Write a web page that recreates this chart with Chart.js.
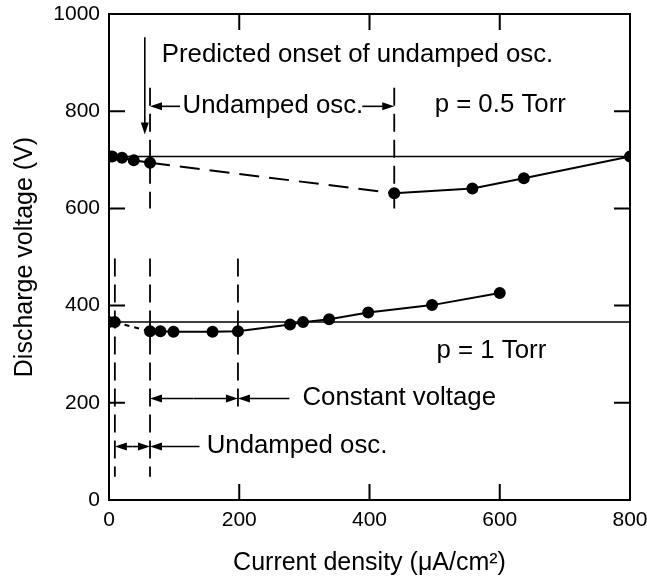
<!DOCTYPE html>
<html>
<head>
<meta charset="utf-8">
<script src="https://cdn.jsdelivr.net/npm/chart.js@4.4.1/dist/chart.umd.min.js"></script>
<style>
  html, body { margin: 0; padding: 0; background: #fff; }
</style>
</head>
<body>
<canvas id="chart" width="647" height="581"></canvas>
<script>
// current density (uA/cm2) and discharge voltage (V)
const torr05X = [0, 5, 20, 38, 63, 438, 558, 637, 800];
const torr05Y = [707, 707, 704, 699, 694, 631, 641, 662, 707];
const torr1X = [0, 9, 63, 79, 99, 159, 198, 278, 298, 338, 398, 496, 600];
const torr1Y = [366, 366, 347, 347, 346, 346, 347, 361, 366, 372, 386, 401, 426];
const refLevels = [707, 366];
const xTickValues = [0, 200, 400, 600, 800];
const yTickValues = [0, 200, 400, 600, 800, 1000];

const FONT = "'Liberation Sans', Arial, Helvetica, sans-serif";
Chart.defaults.font.family = FONT;
Chart.defaults.color = '#000';

function toPoints(xs, ys) {
  return xs.map(function(v, i) { return { x: v, y: ys[i] }; });
}

function arrow(ctx, x0, y0, x1, y1) {
  const ang = Math.atan2(y1 - y0, x1 - x0);
  const len = 12, half = 4;
  ctx.beginPath();
  ctx.moveTo(x0, y0);
  ctx.lineTo(x1 - Math.cos(ang) * len * 0.8, y1 - Math.sin(ang) * len * 0.8);
  ctx.stroke();
  ctx.beginPath();
  ctx.moveTo(x1, y1);
  ctx.lineTo(x1 - Math.cos(ang) * len - Math.sin(ang) * half, y1 - Math.sin(ang) * len + Math.cos(ang) * half);
  ctx.lineTo(x1 - Math.cos(ang) * len + Math.sin(ang) * half, y1 - Math.sin(ang) * len - Math.cos(ang) * half);
  ctx.closePath();
  ctx.fill();
}

const decor = {
  id: 'decor',
  beforeDatasetsDraw(chart) {
    const { ctx, scales: { x, y } } = chart;
    const X = v => x.getPixelForValue(v), Y = v => y.getPixelForValue(v);
    ctx.save();
    ctx.strokeStyle = '#000';
    ctx.lineWidth = 1.8;
    ctx.setLineDash([18, 8]);
    // boundaries of the oscillation regions
    [[63, 848, 600], [438, 848, 600], [9, 497, 48], [63, 497, 48], [198, 497, 180]].forEach(function(l) {
      ctx.beginPath();
      ctx.moveTo(X(l[0]), Y(l[1]));
      ctx.lineTo(X(l[0]), Y(l[2]));
      ctx.stroke();
    });
    ctx.restore();
  },
  afterDraw(chart) {
    const { ctx, chartArea: a, scales: { x, y } } = chart;
    const X = v => x.getPixelForValue(v), Y = v => y.getPixelForValue(v);
    ctx.save();
    ctx.strokeStyle = '#000';
    ctx.fillStyle = '#000';
    ctx.lineWidth = 2;
    ctx.strokeRect(a.left, a.top, a.right - a.left, a.bottom - a.top);

    // inward ticks on all four sides
    const tl = 16;
    ctx.beginPath();
    x.ticks.forEach(function(t) {
      if (t.value <= 0 || t.value >= 800) return;
      const px = X(t.value);
      ctx.moveTo(px, a.bottom); ctx.lineTo(px, a.bottom - tl);
      ctx.moveTo(px, a.top); ctx.lineTo(px, a.top + tl);
    });
    y.ticks.forEach(function(t) {
      if (t.value <= 0 || t.value >= 1000) return;
      const py = Y(t.value);
      ctx.moveTo(a.left, py); ctx.lineTo(a.left + tl, py);
      ctx.moveTo(a.right, py); ctx.lineTo(a.right - tl, py);
    });
    ctx.stroke();

    // arrows
    ctx.lineWidth = 1.6;
    arrow(ctx, X(55), Y(952), X(55), Y(752));
    arrow(ctx, X(109), Y(810), X(63), Y(810));
    arrow(ctx, X(389), Y(810), X(438), Y(810));
    arrow(ctx, X(130), Y(209), X(63), Y(209));
    arrow(ctx, X(130), Y(209), X(198), Y(209));
    arrow(ctx, X(277), Y(209), X(198), Y(209));
    arrow(ctx, X(36), Y(110), X(9), Y(110));
    arrow(ctx, X(36), Y(110), X(63), Y(110));
    arrow(ctx, X(139), Y(110), X(63), Y(110));

    // labels
    ctx.font = '25.8px ' + FONT;
    ctx.textAlign = 'left';
    ctx.textBaseline = 'alphabetic';
    ctx.fillText('Predicted onset of undamped osc.', X(81), Y(901));
    ctx.fillText('Undamped osc.', X(113), Y(796));
    ctx.fillText('p = 0.5 Torr', X(500), Y(798));
    ctx.fillText('p = 1 Torr', X(503), Y(292));
    ctx.fillText('Constant voltage', X(297), Y(195));
    ctx.fillText('Undamped osc.', X(150), Y(96));
    ctx.restore();
  }
};

const refSets = refLevels.map(function(v) {
  return {
    data: [{ x: 0, y: v }, { x: 800, y: v }],
    showLine: true,
    borderColor: '#000',
    borderWidth: 1.5,
    pointRadius: 0
  };
});

new Chart(document.getElementById('chart'), {
  type: 'scatter',
  data: {
    datasets: refSets.concat([
      {
        label: 'p = 0.5 Torr',
        data: toPoints(torr05X, torr05Y),
        showLine: true,
        borderColor: '#000',
        backgroundColor: '#000',
        borderWidth: 2,
        pointRadius: 5,
        segment: {
          borderDash: ctx => ctx.p0DataIndex === 4 ? [20, 10] : undefined
        }
      },
      {
        label: 'p = 1 Torr',
        data: toPoints(torr1X, torr1Y),
        showLine: true,
        borderColor: '#000',
        backgroundColor: '#000',
        borderWidth: 2,
        pointRadius: 5,
        segment: {
          borderDash: ctx => ctx.p0DataIndex === 1 ? [5, 5] : undefined
        }
      }
    ])
  },
  options: {
    responsive: false,
    animation: false,
    layout: { padding: { top: 14, right: 17, left: 0, bottom: 0 } },
    plugins: { legend: { display: false }, tooltip: { enabled: false } },
    scales: {
      x: {
        type: 'linear',
        min: 0,
        max: 800,
        afterBuildTicks: s => { s.ticks = xTickValues.map(v => ({ value: v })); },
        afterFit: s => { s.height = 81; s.paddingLeft = 0; s.paddingRight = 0; },
        grid: { display: false, drawTicks: false },
        border: { display: false },
        ticks: { font: { size: 21 }, padding: 8, color: '#000', callback: v => String(v) },
        title: {
          display: true,
          text: 'Current density (μA/cm²)',
          font: { size: 25 },
          color: '#000',
          padding: { top: 16, bottom: 3 }
        }
      },
      y: {
        min: 0,
        max: 1000,
        afterBuildTicks: s => { s.ticks = yTickValues.map(v => ({ value: v })); },
        afterFit: s => { s.width = 109; s.paddingTop = 0; s.paddingBottom = 0; },
        grid: { display: false, drawTicks: false },
        border: { display: false },
        ticks: { font: { size: 21 }, padding: 9, color: '#000', callback: v => String(v) },
        title: {
          display: true,
          text: 'Discharge voltage (V)',
          font: { size: 25 },
          color: '#000',
          padding: { top: 10, bottom: 13 }
        }
      }
    }
  },
  plugins: [decor]
});
</script>
</body>
</html>
